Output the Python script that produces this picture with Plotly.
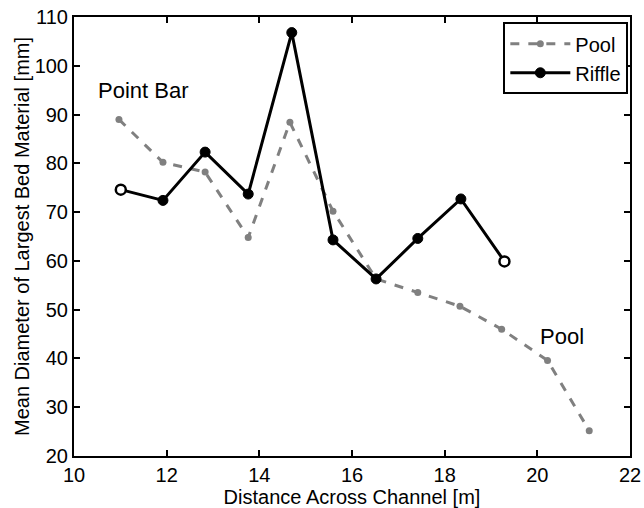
import plotly.graph_objects as go

pool_x = [10.97, 11.92, 12.83, 13.76, 14.66, 15.59, 16.52, 17.42, 18.33, 19.23, 20.22, 21.12]
pool_y = [89.0, 80.2, 78.2, 64.8, 88.4, 70.2, 56.3, 53.5, 50.7, 46.0, 39.6, 25.2]

riffle_x = [11.01, 11.92, 12.83, 13.76, 14.70, 15.59, 16.52, 17.42, 18.35, 19.29]
riffle_y = [74.6, 72.4, 82.3, 73.7, 106.8, 64.3, 56.3, 64.6, 72.7, 59.9]

x_ticks = [10, 12, 14, 16, 18, 20, 22]
y_ticks = [20, 30, 40, 50, 60, 70, 80, 90, 100, 110]

FONT = 20

fig = go.Figure()
fig.add_trace(go.Scatter(
    x=pool_x, y=pool_y, name="Pool", mode="lines+markers",
    line=dict(color="#808080", width=3, dash="dash"),
    marker=dict(color="#808080", size=7),
))
fig.add_trace(go.Scatter(
    x=riffle_x, y=riffle_y, name="Riffle", mode="lines+markers",
    line=dict(color="black", width=3),
    marker=dict(color="black", size=10, line=dict(color="black", width=1)),
))
# open end markers of the riffle series
fig.add_trace(go.Scatter(
    x=[riffle_x[0], riffle_x[-1]], y=[riffle_y[0], riffle_y[-1]],
    mode="markers", showlegend=False, hoverinfo="skip",
    marker=dict(color="white", size=10, line=dict(color="black", width=2.5)),
))

fig.add_annotation(x=11.49, y=94.9, text="Point Bar", showarrow=False,
                   font=dict(size=22, color="black"))
fig.add_annotation(x=20.53, y=44.5, text="Pool", showarrow=False,
                   font=dict(size=22, color="black"))

axis_common = dict(
    showline=True, linecolor="black", linewidth=2, mirror="ticks",
    ticks="inside", ticklen=6, tickwidth=1.5, tickcolor="black",
    showgrid=False, zeroline=False, automargin=False,
    tickfont=dict(size=FONT, color="black"),
)

fig.update_layout(
    width=644, height=508,
    margin=dict(l=74, r=14, t=17, b=52),
    paper_bgcolor="white", plot_bgcolor="white",
    font=dict(family="Liberation Sans, Arial, sans-serif", color="black"),
    xaxis=dict(range=[10, 22], tickvals=x_ticks,
               title=dict(text="Distance Across Channel [m]", font=dict(size=FONT), standoff=0),
               **axis_common),
    yaxis=dict(range=[20, 110], tickvals=y_ticks,
               title=dict(text="Mean Diameter of Largest Bed Material [mm]", font=dict(size=FONT), standoff=0),
               **axis_common),
    legend=dict(x=0.997, y=0.988, xanchor="right", yanchor="top",
                bordercolor="black", borderwidth=2, bgcolor="white",
                font=dict(size=FONT, color="black"), tracegroupgap=0, itemwidth=60),
    showlegend=True,
)

fig.write_html("out.html", config={"displayModeBar": False},
               post_script="document.body.style.margin='0';document.body.style.padding='0';")
